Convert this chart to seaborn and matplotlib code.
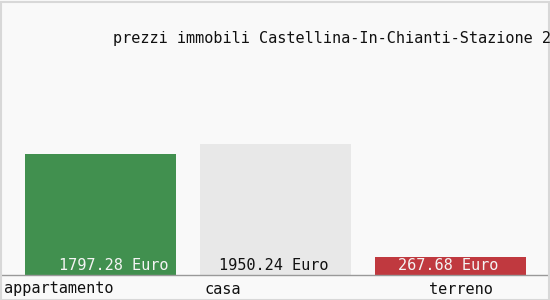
import matplotlib
matplotlib.use("Agg")
import matplotlib.pyplot as plt
import seaborn as sns
import pandas as pd

categories = ["appartamento", "casa", "terreno"]
values = [1797.28, 1950.24, 267.68]
value_labels = ["1797.28 Euro", "1950.24 Euro", "267.68 Euro"]
colors = ["#41904f", "#e8e8e8", "#c0393f"]
label_colors = ["#f4f4f4", "#111111", "#f4f4f4"]
title = "prezzi immobili Castellina-In-Chianti-Stazione 2"

sns.set_theme(style="white")
plt.rcParams['font.family'] = ['DejaVu Sans Mono', 'Liberation Mono']

df = pd.DataFrame({"cat": categories, "val": values})

fig = plt.figure(figsize=(5.5, 3.0), dpi=100, facecolor="#f9f9f9")
W, H = 550, 300
top_px, base_px = 25, 275
ax = fig.add_axes([0, (H - base_px) / H, 1, (base_px - top_px) / H])
ax.set_facecolor("#f9f9f9")

sns.barplot(data=df, x="cat", y="val", hue="cat", palette=colors,
            width=151 / 175, legend=False, ax=ax, saturation=1,
            linewidth=0)

xl0 = (0 - 100.5) / 175
xl1 = (550 - 100.5) / 175
ax.set_xlim(xl0, xl1)
ymax = 1950.24 * (base_px - top_px) / (base_px - 144)
ax.set_ylim(0, ymax)

for s in ["top", "right", "left"]:
    ax.spines[s].set_visible(False)
ax.spines["bottom"].set_color("#999999")
ax.spines["bottom"].set_linewidth(1.0)
ax.set_xticks([])
ax.set_yticks([])
ax.set_xlabel("")
ax.set_ylabel("")

fs = 11
label_x = [(113.5 - 100.5) / 175, (273.5 - 100.5) / 175, (448.5 - 100.5) / 175]
for lx, lab, lc in zip(label_x, value_labels, label_colors):
    ax.text(lx, ymax * 2 / 250, lab, ha="center", va="bottom",
            fontsize=fs, color=lc)

cat_pos = [(4, "left"), (204, "left"), (461, "center")]
for (px, ha), cat in zip(cat_pos, categories):
    fig.text(px / W, 1 - 289 / H, cat, ha=ha, va="center",
             fontsize=fs, color="#111111")

fig.text(113 / W, 1 - 39 / H, title, ha="left", va="center",
         fontsize=fs, color="#111111")

fig.patches.append(plt.Rectangle((0.5 / W, 0.5 / H), 1 - 2 / W, 1 - 2 / H,
                                 transform=fig.transFigure, fill=False,
                                 edgecolor="#d8d8d8", linewidth=1.5))

fig.savefig("out.png", dpi=100, facecolor=fig.get_facecolor())
